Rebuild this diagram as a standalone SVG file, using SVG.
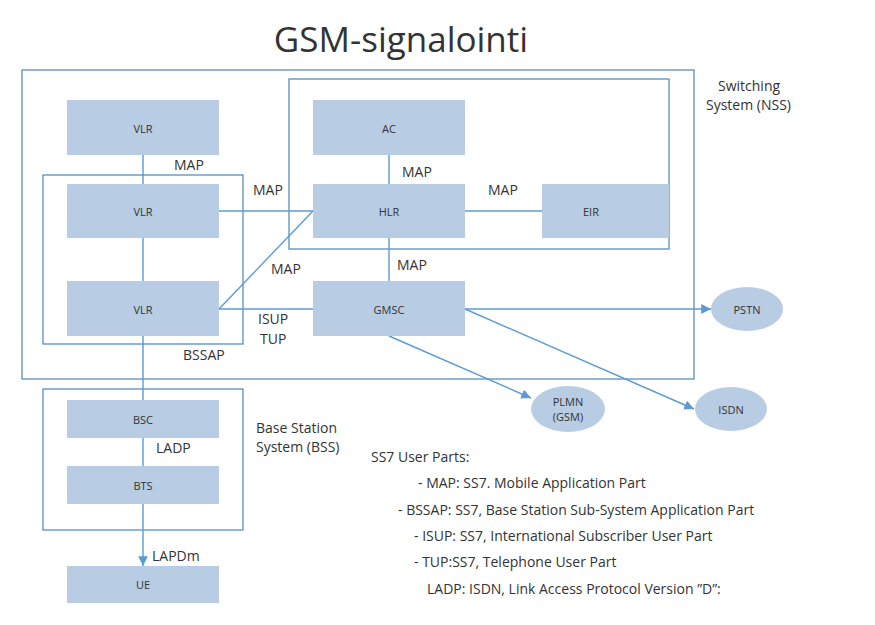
<svg xmlns="http://www.w3.org/2000/svg" width="875" height="625" viewBox="0 0 875 625">
<defs>
<linearGradient id="g" x1="0" y1="0" x2="1" y2="1"><stop offset="0" stop-color="#e6ecf6"/><stop offset="0.6" stop-color="#ffffff"/></linearGradient>
<marker id="a" viewBox="0 0 10 10" refX="10" refY="5" markerWidth="7" markerHeight="7" orient="auto"><path d="M0,0 L10,5 L0,10 z" fill="#5b9bd5"/></marker>
</defs>
<style>
.frame{fill:none;stroke:#4a85bd;stroke-width:1.2}
.box{fill:#b8cce4}
.ell{fill:#b8cce4}
.t{font-family:"Open Sans","Liberation Sans",sans-serif;font-size:11px;fill:#333;text-anchor:middle;dominant-baseline:central}
.lab{font-family:"Open Sans","Liberation Sans",sans-serif;font-size:14px;fill:#333}
.c{stroke:#5b9bd5;stroke-width:1.4;fill:none}
</style>
<rect width="875" height="625" fill="#fff"/>
<text x="401" y="38" font-family="Open Sans,Liberation Sans,sans-serif" font-size="35" fill="#333" text-anchor="middle" dominant-baseline="central">GSM-signalointi</text>
<rect x="22" y="70" width="672" height="309" fill="url(#g)" class="frame"/>
<rect x="289" y="79" width="380" height="170" fill="url(#g)" class="frame"/>
<rect x="43" y="175" width="200" height="169" fill="url(#g)" class="frame"/>
<rect x="43" y="389" width="200" height="141" class="frame"/>
<g id="connectors">
<line class="c" x1="143" y1="155" x2="143" y2="184"/>
<line class="c" x1="143" y1="238" x2="143" y2="281"/>
<line class="c" x1="219" y1="211" x2="313" y2="211"/>
<line class="c" x1="219" y1="309" x2="313" y2="211"/>
<line class="c" x1="219" y1="309" x2="313" y2="309"/>
<line class="c" x1="389" y1="155" x2="389" y2="184"/>
<line class="c" x1="389" y1="238" x2="389" y2="281"/>
<line class="c" x1="465" y1="211" x2="542" y2="211"/>
<line class="c" x1="465" y1="309" x2="711" y2="309" marker-end="url(#a)"/>
<line class="c" x1="389" y1="336" x2="531" y2="398" marker-end="url(#a)"/>
<line class="c" x1="465" y1="309" x2="694" y2="409" marker-end="url(#a)"/>
<line class="c" x1="143" y1="336" x2="143" y2="400"/>
<line class="c" x1="143" y1="438" x2="143" y2="466"/>
<line class="c" x1="143" y1="504" x2="143" y2="566" marker-end="url(#a)"/>
</g>
<g id="vlr1"><rect class="box" x="67" y="100" width="152" height="55"/><text class="t" x="143" y="128">VLR</text></g>
<g id="vlr2"><rect class="box" x="67" y="184" width="152" height="54"/><text class="t" x="143" y="211">VLR</text></g>
<g id="vlr3"><rect class="box" x="67" y="281" width="152" height="55"/><text class="t" x="143" y="309">VLR</text></g>
<g id="ac"><rect class="box" x="313" y="100" width="152" height="55"/><text class="t" x="389" y="128">AC</text></g>
<g id="hlr"><rect class="box" x="313" y="184" width="152" height="54"/><text class="t" x="389" y="211">HLR</text></g>
<g id="eir"><rect class="box" x="542" y="184" width="127" height="54"/><text class="t" x="591" y="211">EIR</text></g>
<g id="gmsc"><rect class="box" x="313" y="281" width="152" height="55"/><text class="t" x="389" y="309">GMSC</text></g>
<g id="bsc"><rect class="box" x="67" y="400" width="152" height="38"/><text class="t" x="143" y="419">BSC</text></g>
<g id="bts"><rect class="box" x="67" y="466" width="152" height="38"/><text class="t" x="143" y="485">BTS</text></g>
<g id="ue"><rect class="box" x="67" y="566" width="152" height="37"/><text class="t" x="143" y="584">UE</text></g>
<g id="pstn"><ellipse class="ell" cx="747" cy="309" rx="36" ry="22"/><text class="t" x="747" y="309">PSTN</text></g>
<g id="plmn"><ellipse class="ell" cx="568" cy="409" rx="37" ry="23"/><text class="t" x="568" y="401">PLMN</text><text class="t" x="568" y="416">(GSM)</text></g>
<g id="isdn"><ellipse class="ell" cx="731" cy="409" rx="36" ry="22"/><text class="t" x="731" y="409">ISDN</text></g>
<g id="labels">
<text class="lab" x="174" y="170">MAP</text>
<text class="lab" x="253" y="195">MAP</text>
<text class="lab" x="402" y="177">MAP</text>
<text class="lab" x="488" y="195">MAP</text>
<text class="lab" x="271" y="274">MAP</text>
<text class="lab" x="397" y="270">MAP</text>
<text class="lab" x="258" y="324">ISUP</text>
<text class="lab" x="260" y="344">TUP</text>
<text class="lab" x="183" y="360">BSSAP</text>
<text class="lab" x="156" y="453">LADP</text>
<text class="lab" x="256" y="433">Base Station</text>
<text class="lab" x="256" y="452">System (BSS)</text>
<text class="lab" x="718" y="91">Switching</text>
<text class="lab" x="706" y="110">System (NSS)</text>
<text class="lab" x="152" y="561">LAPDm</text>
<text class="lab" x="371" y="462">SS7 User Parts:</text>
<text class="lab" x="418" y="488">- MAP: SS7. Mobile Application Part</text>
<text class="lab" x="398" y="515">- BSSAP: SS7, Base Station Sub-System Application Part</text>
<text class="lab" x="414" y="541">- ISUP: SS7, International Subscriber User Part</text>
<text class="lab" x="414" y="567">- TUP:SS7, Telephone User Part</text>
<text class="lab" x="427" y="594">LADP: ISDN, Link Access Protocol Version ”D”:</text>
</g>
</svg>
